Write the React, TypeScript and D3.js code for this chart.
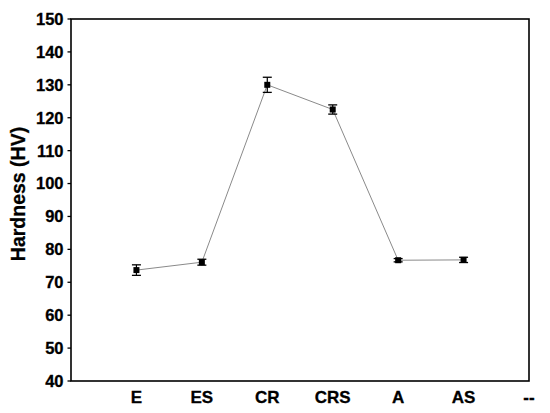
import React from "react";
import * as d3 from "d3";

const categories = ["E", "ES", "CR", "CRS", "A", "AS"];
const extraTick = "--";
const hardness = [73.7, 76.1, 130.0, 122.5, 76.7, 76.8];
const errors = [1.6, 0.9, 2.3, 1.4, 0.5, 0.8];
const yTicks = [40, 50, 60, 70, 80, 90, 100, 110, 120, 130, 140, 150];

const W = 550;
const H = 413;
const margin = { left: 71, right: 21, top: 19, bottom: 32 };

export default function App() {
  const x = d3.scaleLinear().domain([0, 7]).range([margin.left, W - margin.right]);
  const y = d3.scaleLinear().domain([40, 150]).range([H - margin.bottom, margin.top]);
  const line = d3
    .line<number>()
    .x((_, i) => x(i + 1))
    .y((d) => y(d));
  const xLabels = [...categories, extraTick];
  const font = "Arial, 'Liberation Sans', sans-serif";
  return (
    <svg
      width={W}
      height={H}
      style={{ position: "absolute", left: 0, top: 0, background: "#fff" }}
    >
      <rect
        x={x(0)}
        y={y(150)}
        width={x(7) - x(0)}
        height={y(40) - y(150)}
        fill="none"
        stroke="#000"
        strokeWidth={1.6}
      />
      {yTicks.map((t) => (
        <g key={t}>
          <line x1={x(0) - 3.5} x2={x(0)} y1={y(t)} y2={y(t)} stroke="#000" strokeWidth={1.3} />
          <text
            x={x(0) - 7.5}
            y={y(t)}
            dy="0.36em"
            textAnchor="end"
            fontFamily={font}
            fontWeight="bold"
            fontSize={16.5}
            fill="#000"
            stroke="#000"
            strokeWidth={0.3}
          >
            {t}
          </text>
        </g>
      ))}
      {xLabels.map((c, i) => (
        <text
          key={c}
          x={x(i + 1)}
          y={y(40) + 21.5}
          textAnchor="middle"
          fontFamily={font}
          fontWeight="bold"
          fontSize={17}
          fill="#000"
          stroke="#000"
          strokeWidth={0.3}
        >
          {c}
        </text>
      ))}
      <text
        transform={`translate(25, 194) rotate(-90)`}
        textAnchor="middle"
        fontFamily={font}
        fontWeight="bold"
        fontSize={19.5}
        fill="#000"
        stroke="#000"
        strokeWidth={0.3}
      >
        Hardness (HV)
      </text>
      <path d={line(hardness) || ""} fill="none" stroke="#8a8a8a" strokeWidth={1} />
      {hardness.map((v, i) => {
        const cx = x(i + 1);
        const e = errors[i];
        return (
          <g key={i}>
            <line x1={cx} x2={cx} y1={y(v - e)} y2={y(v + e)} stroke="#000" strokeWidth={1.2} />
            <line x1={cx - 4.5} x2={cx + 4.5} y1={y(v + e)} y2={y(v + e)} stroke="#000" strokeWidth={1.3} />
            <line x1={cx - 4.5} x2={cx + 4.5} y1={y(v - e)} y2={y(v - e)} stroke="#000" strokeWidth={1.3} />
            <rect x={cx - 3} y={y(v) - 3} width={6} height={6} fill="#000" />
          </g>
        );
      })}
    </svg>
  );
}
